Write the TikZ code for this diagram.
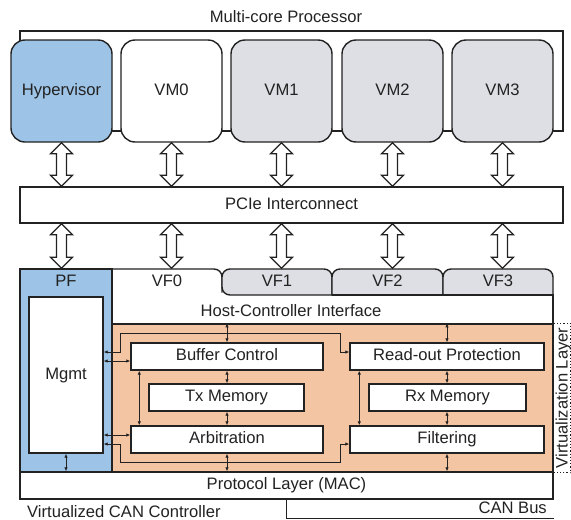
\documentclass[tikz,border=0pt]{standalone}
\usepackage{fontspec}
\setmainfont{Liberation Sans}
\usetikzlibrary{arrows.meta,calc}

\definecolor{hypblue}{RGB}{157,195,230}
\definecolor{vmgrey}{RGB}{222,223,228}
\definecolor{virtorange}{RGB}{244,197,163}
\definecolor{linecol}{RGB}{34,34,34}

% hollow double block arrow from #1 (top tip) to #2 (bottom tip)
\newcommand{\blockarrow}[2]{%
  \path (#1) coordinate (ba-t) (#2) coordinate (ba-b);
  \draw [fill=white, draw=linecol, line width=1.3pt] (ba-t) -- ++(-11,11) -- ++(6,0)
    -- ($(ba-b)+(-5,-11)$) -- ++(-6,0) -- (ba-b) -- ++(11,-11) -- ++(-6,0)
    -- ($(ba-t)+(5,11)$) -- ++(6,0) -- cycle;}

\begin{document}
\begin{tikzpicture}[x=1pt, y=-1pt, inner sep=0pt,
                    font=\fontsize{16.6}{19}\selectfont,
                    every node/.style={text=linecol, text height=11.8pt, text depth=3.4pt},
                    vmbox/.style={draw=linecol, line width=1.4pt, rounded corners=14pt,
                                  minimum width=101pt, minimum height=102pt},
                    blk/.style={draw=linecol, line width=1.4pt, fill=white, minimum height=27pt},
                    tab/.style={draw=linecol, line width=1.4pt, rounded corners=8pt, line cap=rect},
                    lnk/.style={draw=linecol, line width=1pt,
                                {Latex[length=4pt,width=3.5pt]}-{Latex[length=4pt,width=3.5pt]}}]
    \useasboundingbox (0,0) rectangle (571,520);

    % processor
    \node at (291.5,81) (cpu) [draw=linecol, line width=1.4pt, minimum width=543pt, minimum height=100pt] {};
    \node at (286,22)   (cputitle) [anchor=base] {Multi-core Processor};

    \node at ( 61.5,91) (hyp) [vmbox, fill=hypblue] {Hypervisor};
    \node at (171.5,91) (vm0) [vmbox, fill=white]   {VM0};
    \node at (281.5,91) (vm1) [vmbox, fill=vmgrey]  {VM1};
    \node at (392.5,91) (vm2) [vmbox, fill=vmgrey]  {VM2};
    \node at (502.5,91) (vm3) [vmbox, fill=vmgrey]  {VM3};

    \node at (291.5,205) (pcie) [blk, minimum width=543pt, minimum height=36pt] {PCIe Interconnect};

    \blockarrow{hyp.south}{hyp.south |- pcie.north}
    \blockarrow{vm0.south}{vm0.south |- pcie.north}
    \blockarrow{vm1.south}{vm1.south |- pcie.north}
    \blockarrow{vm2.south}{vm2.south |- pcie.north}
    \blockarrow{vm3.south}{vm3.south |- pcie.north}

    % controller
    \node at (66,370.5)  (pf)     [draw=linecol, line width=1.4pt, fill=hypblue,
                                   minimum width=92pt, minimum height=203pt] {};
    \node at (332.5,398) (vlayer) [draw=linecol, line width=1.4pt, fill=virtorange,
                                   minimum width=441pt, minimum height=148pt] {};
    \node at (286.5,485.5) (mac)  [blk, minimum width=533pt] {Protocol Layer (MAC)};

    \draw [tab] (112,269) -- (222,269) -- (222,292);
    \draw [tab, fill=vmgrey] (332,295) -- (222,295) -- (222,269) -- (332,269) -- (332,295);
    \draw [tab, fill=vmgrey] (332,295) -- (332,269) -- (443,269) -- (443,295);
    \draw [tab, fill=vmgrey] (443,295) -- (443,269) -- (553,269) -- (553,295);
    \draw [draw=linecol, line width=1.4pt] (332,295) -- (553,295) -- (553,324);

    \node at (66,282.7)    (pflabel) {PF};
    \node at (167,282.7)   (vf0) {VF0};
    \node at (277,282.7)   (vf1) {VF1};
    \node at (387.5,282.7) (vf2) {VF2};
    \node at (498,282.7)   (vf3) {VF3};
    \node at (291,312.5)   (hci) {Host-Controller Interface};

    \blockarrow{hyp.south |- pcie.south}{hyp.south |- pf.north}
    \blockarrow{vm0.south |- pcie.south}{vm0.south |- pf.north}
    \blockarrow{vm1.south |- pcie.south}{vm1.south |- pf.north}
    \blockarrow{vm2.south |- pcie.south}{vm2.south |- pf.north}
    \blockarrow{vm3.south |- pcie.south}{vm3.south |- pf.north}

    \node at (66,375)      (mgmt)    [blk, minimum width=74pt, minimum height=156pt] {Mgmt};
    \node at (227,356.5)   (bufctl)  [blk, minimum width=192pt] {Buffer Control};
    \node at (226.5,397.5) (txmem)   [blk, minimum width=155pt] {Tx Memory};
    \node at (227,439.5)   (arbit)   [blk, minimum width=192pt] {Arbitration};
    \node at (447,356.5)   (readout) [blk, minimum width=194pt] {Read-out Protection};
    \node at (447.5,397.5) (rxmem)   [blk, minimum width=157pt] {Rx Memory};
    \node at (447,439.5)   (filter)  [blk, minimum width=194pt] {Filtering};

    % links inside the virtualization layer
    \draw [lnk] (bufctl.north |- vlayer.north) -- (bufctl.north);
    \draw [lnk] (bufctl.south) -- (bufctl.south |- txmem.north);
    \draw [lnk] (arbit.north |- txmem.south) -- (arbit.north);
    \draw [lnk] (arbit.south) -- (arbit.south |- mac.north);
    \draw [lnk] (readout.north |- vlayer.north) -- (readout.north);
    \draw [lnk] (readout.south) -- (readout.south |- rxmem.north);
    \draw [lnk] (filter.north |- rxmem.south) -- (filter.north);
    \draw [lnk] (filter.south) -- (filter.south |- mac.north);
    \draw [lnk] ($(bufctl.south west)+(9,0)$) -- ($(arbit.north west)+(9,0)$);
    \draw [lnk] ($(readout.south west)+(10,0)$) -- ($(filter.north west)+(10,0)$);

    \draw [lnk] ($(bufctl.west)+(0,4.5)$) coordinate (bc-in) -- (bc-in -| mgmt.east);
    \draw [lnk] ($(arbit.west)+(0,-4.5)$) coordinate (ar-in) -- (ar-in -| mgmt.east);
    \draw [lnk] ($(readout.west)+(0,-4.5)$) coordinate (ro-in) -- ++(-9,0)
        |- ($(vlayer.north west)+(9,10)$) |- (ro-in -| mgmt.east);
    \draw [lnk] ($(filter.west)+(0,4.5)$) coordinate (fl-in) -- ++(-9,0)
        |- ($(vlayer.south west)+(9,-10)$) |- (fl-in -| mgmt.east);
    \draw [lnk] (mgmt.south) -- (mgmt.south |- mac.north);

    \draw [dotted, draw=linecol, line width=1.2pt] (vlayer.north east) -- ++(17,0) |- (vlayer.south east);
    \node at (563.5,398) (vlabel) [rotate=90] {Virtualization Layer};

    \draw [draw=linecol, line width=1.4pt] (mac.south) |- ($(mac.south east)+(0,19)$);
    \node at (547,513) (canbus)   [anchor=base east] {CAN Bus};
    \node at (27,517)  (ctrlname) [anchor=base west] {Virtualized CAN Controller};
\end{tikzpicture}
\end{document}
